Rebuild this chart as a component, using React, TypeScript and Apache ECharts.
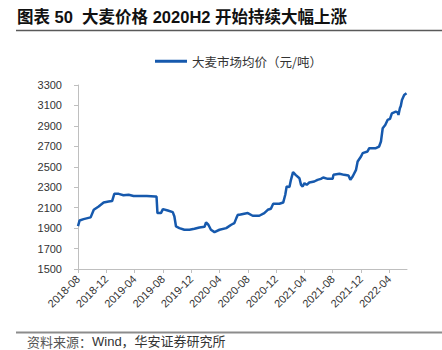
import React, { useEffect, useRef } from "react";
import * as echarts from "echarts";

const titleText = "图表 50  大麦价格 2020H2 开始持续大幅上涨";
const seriesName = "大麦市场均价（元/吨）";
const sourceLabel = "资料来源：";
const sourceText = "Wind，华安证券研究所";

const dates = [
  "2018-08-01", "2018-08-08", "2018-08-25", "2018-09-16", "2018-09-25", "2018-10-08", "2018-10-29",
  "2018-11-20", "2018-12-11", "2018-12-26", "2019-01-05", "2019-01-24", "2019-02-14", "2019-03-06",
  "2019-03-27", "2019-04-25", "2019-05-23", "2019-06-29", "2019-07-04", "2019-07-08", "2019-07-23",
  "2019-08-01", "2019-08-22", "2019-09-13", "2019-09-20", "2019-09-27", "2019-10-11", "2019-11-02",
  "2019-11-24", "2019-12-15", "2020-01-06", "2020-01-28", "2020-02-04", "2020-02-14", "2020-02-25",
  "2020-03-10", "2020-04-01", "2020-04-30", "2020-05-21", "2020-06-04", "2020-06-13", "2020-06-19",
  "2020-06-26", "2020-08-01", "2020-08-22", "2020-09-20", "2020-10-11", "2020-10-26", "2020-11-09",
  "2020-11-19", "2020-12-15", "2021-01-01", "2021-01-10", "2021-01-16", "2021-01-28", "2021-02-04",
  "2021-02-13", "2021-02-24", "2021-03-10", "2021-03-17", "2021-03-24", "2021-04-01", "2021-04-11",
  "2021-04-22", "2021-05-13", "2021-05-27", "2021-06-11", "2021-06-21", "2021-07-10", "2021-08-01",
  "2021-08-04", "2021-08-30", "2021-09-20", "2021-10-08", "2021-10-16", "2021-10-26", "2021-11-10",
  "2021-11-17", "2021-12-01", "2021-12-08", "2021-12-29", "2022-01-06", "2022-02-04", "2022-02-18",
  "2022-02-26", "2022-03-03", "2022-03-14", "2022-03-24", "2022-04-04", "2022-04-12", "2022-04-29",
  "2022-05-06", "2022-05-10", "2022-05-16", "2022-05-20", "2022-05-25", "2022-06-04", "2022-06-14",
];

const prices = [
  1920, 1975, 1988, 2000, 2005, 2079, 2111,
  2150, 2160, 2165, 2235, 2235, 2222, 2226,
  2215, 2215, 2215, 2209, 2209, 2047, 2047,
  2086, 2072, 2056, 2014, 1916, 1900, 1884,
  1884, 1893, 1906, 1913, 1955, 1933, 1884,
  1861, 1884, 1900, 1933, 1949, 2000, 2030,
  2030, 2047, 2021, 2021, 2047, 2079, 2089,
  2138, 2138, 2150, 2226, 2307, 2301, 2372,
  2447, 2421, 2388, 2323, 2307, 2340, 2323,
  2346, 2356, 2372, 2382, 2395, 2382, 2382,
  2421, 2431, 2421, 2414, 2372, 2405, 2470,
  2551, 2600, 2633, 2649, 2682, 2682, 2698,
  2747, 2877, 2909, 2958, 2968, 3023, 3040,
  3033, 3007, 3072, 3095, 3153, 3202, 3219,
];

const xTickLabels = [
  "2018-08", "2018-12", "2019-04", "2019-08", "2019-12", "2020-04",
  "2020-08", "2020-12", "2021-04", "2021-08", "2021-12", "2022-04",
];

const yMin = 1500;
const yMax = 3300;
const yStep = 200;

// months since 2018-08
function monthIndex(s: string): number {
  const [y, m, d] = s.split("-").map(Number);
  return (y - 2018) * 12 + (m - 8) + (d - 1) / 30.5;
}

export default function App() {
  const ref = useRef<HTMLDivElement>(null);
  useEffect(() => {
    if (!ref.current) return;
    const chart = echarts.init(ref.current, null, { renderer: "svg" });
    const data = dates.map((d, i) => [monthIndex(d), prices[i]]);
    const tickVals = xTickLabels.map((_, i) => i * 4);
    chart.setOption({
      animation: false,
      backgroundColor: "#ffffff",
      grid: { left: 78, right: 35, top: 85, bottom: 81 },
      legend: {
        left: 150,
        top: 50,
        icon: "rect",
        itemWidth: 32,
        itemHeight: 3,
        itemGap: 6,
        textStyle: { fontSize: 12.5, color: "#333", fontFamily: "Noto Sans CJK SC" },
        data: [seriesName],
      },
      xAxis: {
        type: "value",
        min: 0,
        max: 46.5,
        interval: 4,
        splitLine: { show: false },
        axisLine: { lineStyle: { color: "#bfbfbf", width: 1 } },
        axisTick: { show: true, length: 4, lineStyle: { color: "#bfbfbf" }, customValues: tickVals },
        axisLabel: {
          customValues: tickVals,
          rotate: 45,
          margin: 8,
          fontSize: 11,
          color: "#333",
          fontFamily: "Liberation Sans, Arial",
          formatter: (v: number) => xTickLabels[Math.round(v / 4)] ?? "",
        },
      },
      yAxis: {
        type: "value",
        min: yMin,
        max: yMax,
        interval: yStep,
        splitLine: { show: false },
        axisLine: { show: true, lineStyle: { color: "#bfbfbf", width: 1 } },
        axisTick: { show: true, length: 4, lineStyle: { color: "#bfbfbf" } },
        axisLabel: {
          fontSize: 11,
          color: "#333",
          margin: 16,
          fontFamily: "Liberation Sans, Arial",
          formatter: (v: number) => String(v),
        },
      },
      series: [
        {
          name: seriesName,
          type: "line",
          data,
          showSymbol: false,
          symbol: "none",
          lineStyle: { color: "#1659ad", width: 2.5 },
          itemStyle: { color: "#1659ad" },
        },
      ],
      graphic: [
        {
          type: "text",
          left: 17,
          top: 9,
          style: {
            text: titleText,
            fontSize: 16.5,
            fontWeight: "bold",
            fill: "#111",
            fontFamily: "Liberation Sans, Noto Sans CJK SC",
          },
        },
        {
          type: "line",
          shape: { x1: 16, y1: 30.5, x2: 442, y2: 30.5 },
          style: { stroke: "#595959", lineWidth: 1.5 },
        },
        {
          type: "line",
          shape: { x1: 16, y1: 332.5, x2: 442, y2: 332.5 },
          style: { stroke: "#8c8c8c", lineWidth: 2 },
        },
        {
          type: "text",
          left: 27,
          top: 335,
          style: {
            text: "{a|" + sourceLabel + "}{b|" + sourceText + "}",
            rich: {
              a: { fontSize: 13, fill: "#555", fontFamily: "Noto Sans CJK SC" },
              b: { fontSize: 13, fill: "#333", fontFamily: "Liberation Sans, Noto Sans CJK SC" },
            },
          },
        },
      ],
    });
    return () => chart.dispose();
  }, []);
  return (
    <div
      ref={ref}
      style={{ position: "fixed", left: 0, top: 0, width: 442, height: 350, background: "#fff" }}
    />
  );
}
